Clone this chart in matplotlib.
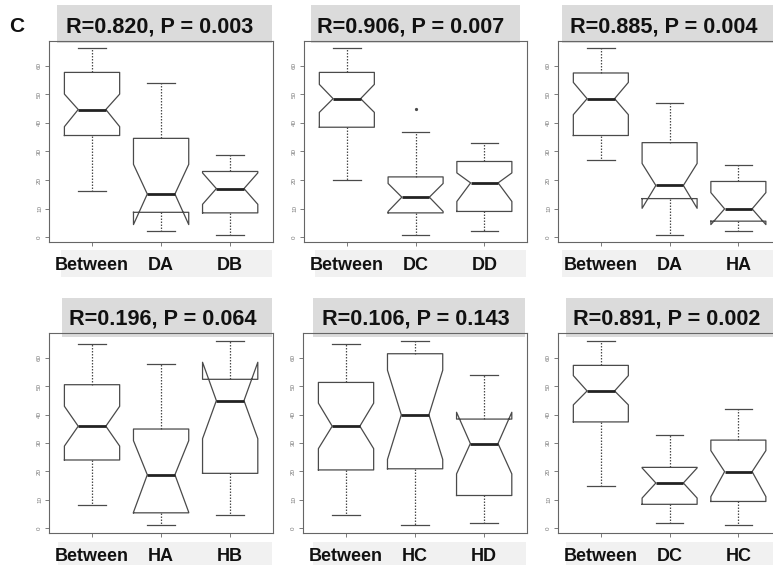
import matplotlib
matplotlib.use("Agg")
import matplotlib.pyplot as plt
import matplotlib.transforms as mtransforms
from matplotlib.patches import Rectangle

plt.rcParams['font.family'] = ['Liberation Sans', 'DejaVu Sans']

# ---- data ----
titles = ["R=0.820, P = 0.003", "R=0.906, P = 0.007", "R=0.885, P = 0.004",
          "R=0.196, P = 0.064", "R=0.106, P = 0.143", "R=0.891, P = 0.002"]
groups = [["Between", "DA", "DB"], ["Between", "DC", "DD"], ["Between", "DA", "HA"],
          ["Between", "HA", "HB"], ["Between", "HC", "HD"], ["Between", "DC", "HC"]]

whislo = [[16.0, 2.1, 0.9], [20.0, 0.9, 2.0], [27.0, 0.9, 2.0],
          [8.0, 1.0, 4.8], [4.8, 1.0, 1.9], [15.0, 1.9, 1.0]]
q1 = [[35.6, 8.7, 8.5], [38.5, 8.5, 9.0], [35.6, 13.5, 5.6],
      [24.0, 5.4, 19.3], [20.5, 20.9, 11.5], [37.4, 8.4, 9.4]]
cilo = [[38.7, 4.4, 11.5], [43.7, 9.0, 12.5], [42.9, 10.1, 4.4],
        [28.9, 5.6, 31.5], [28.0, 24.2, 19.1], [43.4, 10.6, 11.1]]
med = [[44.7, 15.1, 17.0], [48.5, 14.0, 19.0], [48.5, 18.1, 9.9],
       [35.9, 18.8, 44.9], [35.9, 39.9, 29.8], [48.3, 15.9, 19.9]]
cihi = [[50.1, 25.5, 22.5], [53.5, 18.8, 22.5], [54.2, 25.8, 15.6],
        [42.9, 30.8, 58.4], [44.0, 55.6, 40.8], [53.7, 21.2, 27.3]]
q3 = [[57.7, 34.6, 23.0], [57.7, 21.1, 26.5], [57.5, 33.1, 19.5],
      [50.5, 34.9, 52.4], [51.3, 61.4, 38.4], [57.3, 21.4, 31.0]]
whishi = [[66.1, 54.0, 28.9], [66.1, 37.0, 33.0], [66.1, 47.0, 25.1],
          [64.9, 57.9, 66.0], [64.9, 66.0, 53.9], [66.0, 32.9, 42.0]]
outliers = [[[], [], []], [[], [45.0], []], [[], [], []],
            [[], [], []], [[], [], []], [[], [], []]]
yticks = [0, 10, 20, 30, 40, 50, 60]

# ---- layout in pixels (left, top, right, bottom) ----
W, H = 773, 565
axes_px = [(49, 41, 273, 242), (304, 41, 527, 242), (558, 41, 781, 242),
           (49, 333, 273, 533), (303, 333, 527, 533), (558, 333, 781, 533)]
title_px = [(57, 5, 272, 43), (311, 5, 520, 43), (562, 5, 790, 43),
            (62, 298, 272, 337), (313, 298, 525, 337), (566, 298, 790, 337)]
title_xy = [(160, 27), (411, 27), (664, 27), (163, 319), (416, 319), (667, 319)]
band_px = [(61, 250, 272, 277), (315, 250, 526, 277), (562, 250, 790, 277),
           (58, 542, 272, 570), (313, 542, 526, 570), (566, 542, 790, 570)]


def fig_rect(r):
    l, t, rr, b = r
    return (l / W, 1 - b / H, (rr - l) / W, (b - t) / H)


fig = plt.figure(figsize=(W / 100, H / 100), dpi=100)
line_c = '#4a4a4a'
label_shift = mtransforms.ScaledTranslation(5 / 100, 0, fig.dpi_scale_trans)

for i in range(6):
    # grey bands behind title and group labels
    for r, c in ((title_px[i], '#dbdbdb'), (band_px[i], '#f1f1f1')):
        x, y, w, h = fig_rect(r)
        fig.add_artist(Rectangle((x, y), w, h, transform=fig.transFigure,
                                 facecolor=c, edgecolor='none', zorder=0))

    ax = fig.add_axes(fig_rect(axes_px[i]))
    ax.set_facecolor('none')
    stats = []
    for j in range(3):
        stats.append(dict(label=groups[i][j], whislo=whislo[i][j], q1=q1[i][j],
                          cilo=cilo[i][j], med=med[i][j], cihi=cihi[i][j],
                          q3=q3[i][j], whishi=whishi[i][j], fliers=outliers[i][j]))
    ax.bxp(stats, positions=[1, 2, 3], widths=0.8, shownotches=True, showfliers=True,
           boxprops=dict(color=line_c, lw=0.9),
           medianprops=dict(color='#222222', lw=2.0),
           whiskerprops=dict(color=line_c, lw=0.9, linestyle=(0, (1.2, 1.2))),
           capprops=dict(color=line_c, lw=0.9),
           flierprops=dict(marker='o', markersize=1.3, markerfacecolor=line_c,
                           markeredgecolor=line_c))

    ax.set_xlim(0.377, 3.62)
    ax.set_ylim(-1.7, 68.7)
    ax.set_yticks(yticks)
    ax.set_yticklabels([str(v) for v in yticks], rotation=90, va='center',
                       fontsize=4.5, color='#777777')
    ax.set_xticks([1, 2, 3])
    ax.set_xticklabels(groups[i], fontsize=13, fontweight='bold', color='#111111')
    for lab in ax.get_xticklabels():
        lab.set_transform(lab.get_transform() + label_shift)
    ax.tick_params(axis='y', length=3, width=0.6, color='#666666', pad=2)
    ax.tick_params(axis='x', length=3, width=0.6, color='#666666', pad=8)
    for s in ax.spines.values():
        s.set_color('#666666')
        s.set_linewidth(0.8)

    tx, ty = title_xy[i]
    fig.text(tx / W, 1 - ty / H, titles[i], ha='center', va='center',
             fontsize=15.6, fontweight='bold', color='#111111', zorder=5)

fig.text(17 / W, 1 - 27 / H, "C", ha='center', va='center', fontsize=15,
         fontweight='bold', color='#111111')

fig.savefig("out.png", dpi=100)
